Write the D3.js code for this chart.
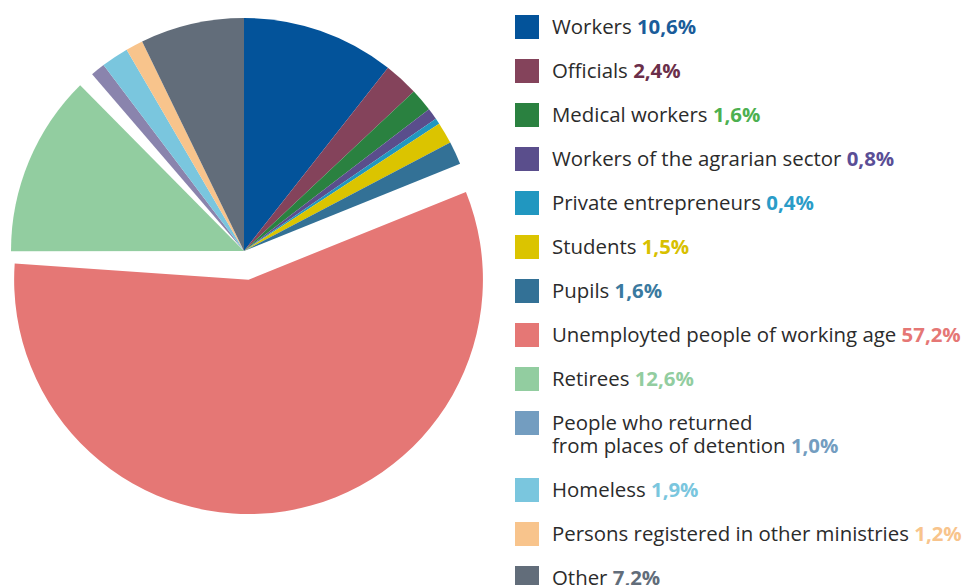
<!DOCTYPE html>
<html>
<head>
<meta charset="utf-8">
<script src="https://cdn.jsdelivr.net/npm/d3@7"></script>
<style>
  html, body { margin: 0; padding: 0; background: #fff; }
  svg { display: block; }
</style>
</head>
<body>
<svg id="chart" width="962" height="585"></svg>
<script>
const categories = [
  "Workers", "Officials", "Medical workers", "Workers of the agrarian sector",
  "Private entrepreneurs", "Students", "Pupils", "Unemployted people of working age",
  "Retirees", "People who returned\nfrom places of detention", "Homeless",
  "Persons registered in other ministries", "Other"
];
const values = [10.6, 2.4, 1.6, 0.8, 0.4, 1.5, 1.6, 57.2, 12.6, 1.0, 1.9, 1.2, 7.2];
const valueLabels = ["10,6%", "2,4%", "1,6%", "0,8%", "0,4%", "1,5%", "1,6%", "57,2%", "12,6%", "1,0%", "1,9%", "1,2%", "7,2%"];
const sliceColors = ["#03539a", "#84435b", "#2a8140", "#5a4e8c", "#2197c0", "#dbc400", "#337196", "#e57775", "#92cda0", "#8a84ad", "#7ac6de", "#f8c48c", "#626d7a"];
const legendColors = ["#03539a", "#84435b", "#2a8140", "#5a4e8c", "#2197c0", "#dbc400", "#337196", "#e57775", "#92cda0", "#739dc0", "#7ac6de", "#f8c48c", "#626d7a"];
const labelColors = ["#1a5c9a", "#6b2f4a", "#4cb050", "#5a4e96", "#2a9cc8", "#d8c000", "#3a7aa0", "#e57775", "#92cda0", "#739dc0", "#7ac6de", "#f8c48c", "#626d7a"];

const svg = d3.select("#chart");
const cx = 244, cy = 251, R = 233;
const explodeIndex = 7, explodeDist = 29;
const shiftIndex = 8, shiftDeg = -4;

const pie = d3.pie().sort(null).value(d => d);
const arcs = pie(values);
const arc = d3.arc().innerRadius(0).outerRadius(R);

const g = svg.append("g").attr("transform", `translate(${cx},${cy})`);
g.selectAll("path")
  .data(arcs)
  .join("path")
  .attr("d", arc)
  .attr("fill", (d, i) => sliceColors[i])
  .attr("transform", (d, i) => {
    if (i === explodeIndex) {
      const m = (d.startAngle + d.endAngle) / 2;
      return `translate(${explodeDist * Math.sin(m)},${-explodeDist * Math.cos(m)}) scale(1.006)`;
    }
    if (i === shiftIndex) return `rotate(${shiftDeg})`;
    return null;
  });

// Legend
const lx = 515, sq = 24, tx = 552;
const rowStep = 44, lineStep = 23;
let y = 27;
const legend = svg.append("g").attr("font-family", "'Open Sans', sans-serif").attr("font-size", 20.4);
categories.forEach((c, i) => {
  const lines = c.split("\n");
  legend.append("rect")
    .attr("x", lx).attr("y", y - sq / 2)
    .attr("width", sq).attr("height", sq)
    .attr("fill", legendColors[i]);
  const t = legend.append("text").attr("x", tx).attr("y", y).attr("fill", "#2b2b2b");
  lines.forEach((ln, k) => {
    t.append("tspan").attr("x", tx).attr("dy", k === 0 ? "0.35em" : lineStep).text(ln + (k === lines.length - 1 ? " " : ""));
  });
  t.append("tspan").attr("font-weight", "bold").attr("fill", labelColors[i]).text(valueLabels[i]);
  y += rowStep + (lines.length - 1) * lineStep;
});
</script>
</body>
</html>
